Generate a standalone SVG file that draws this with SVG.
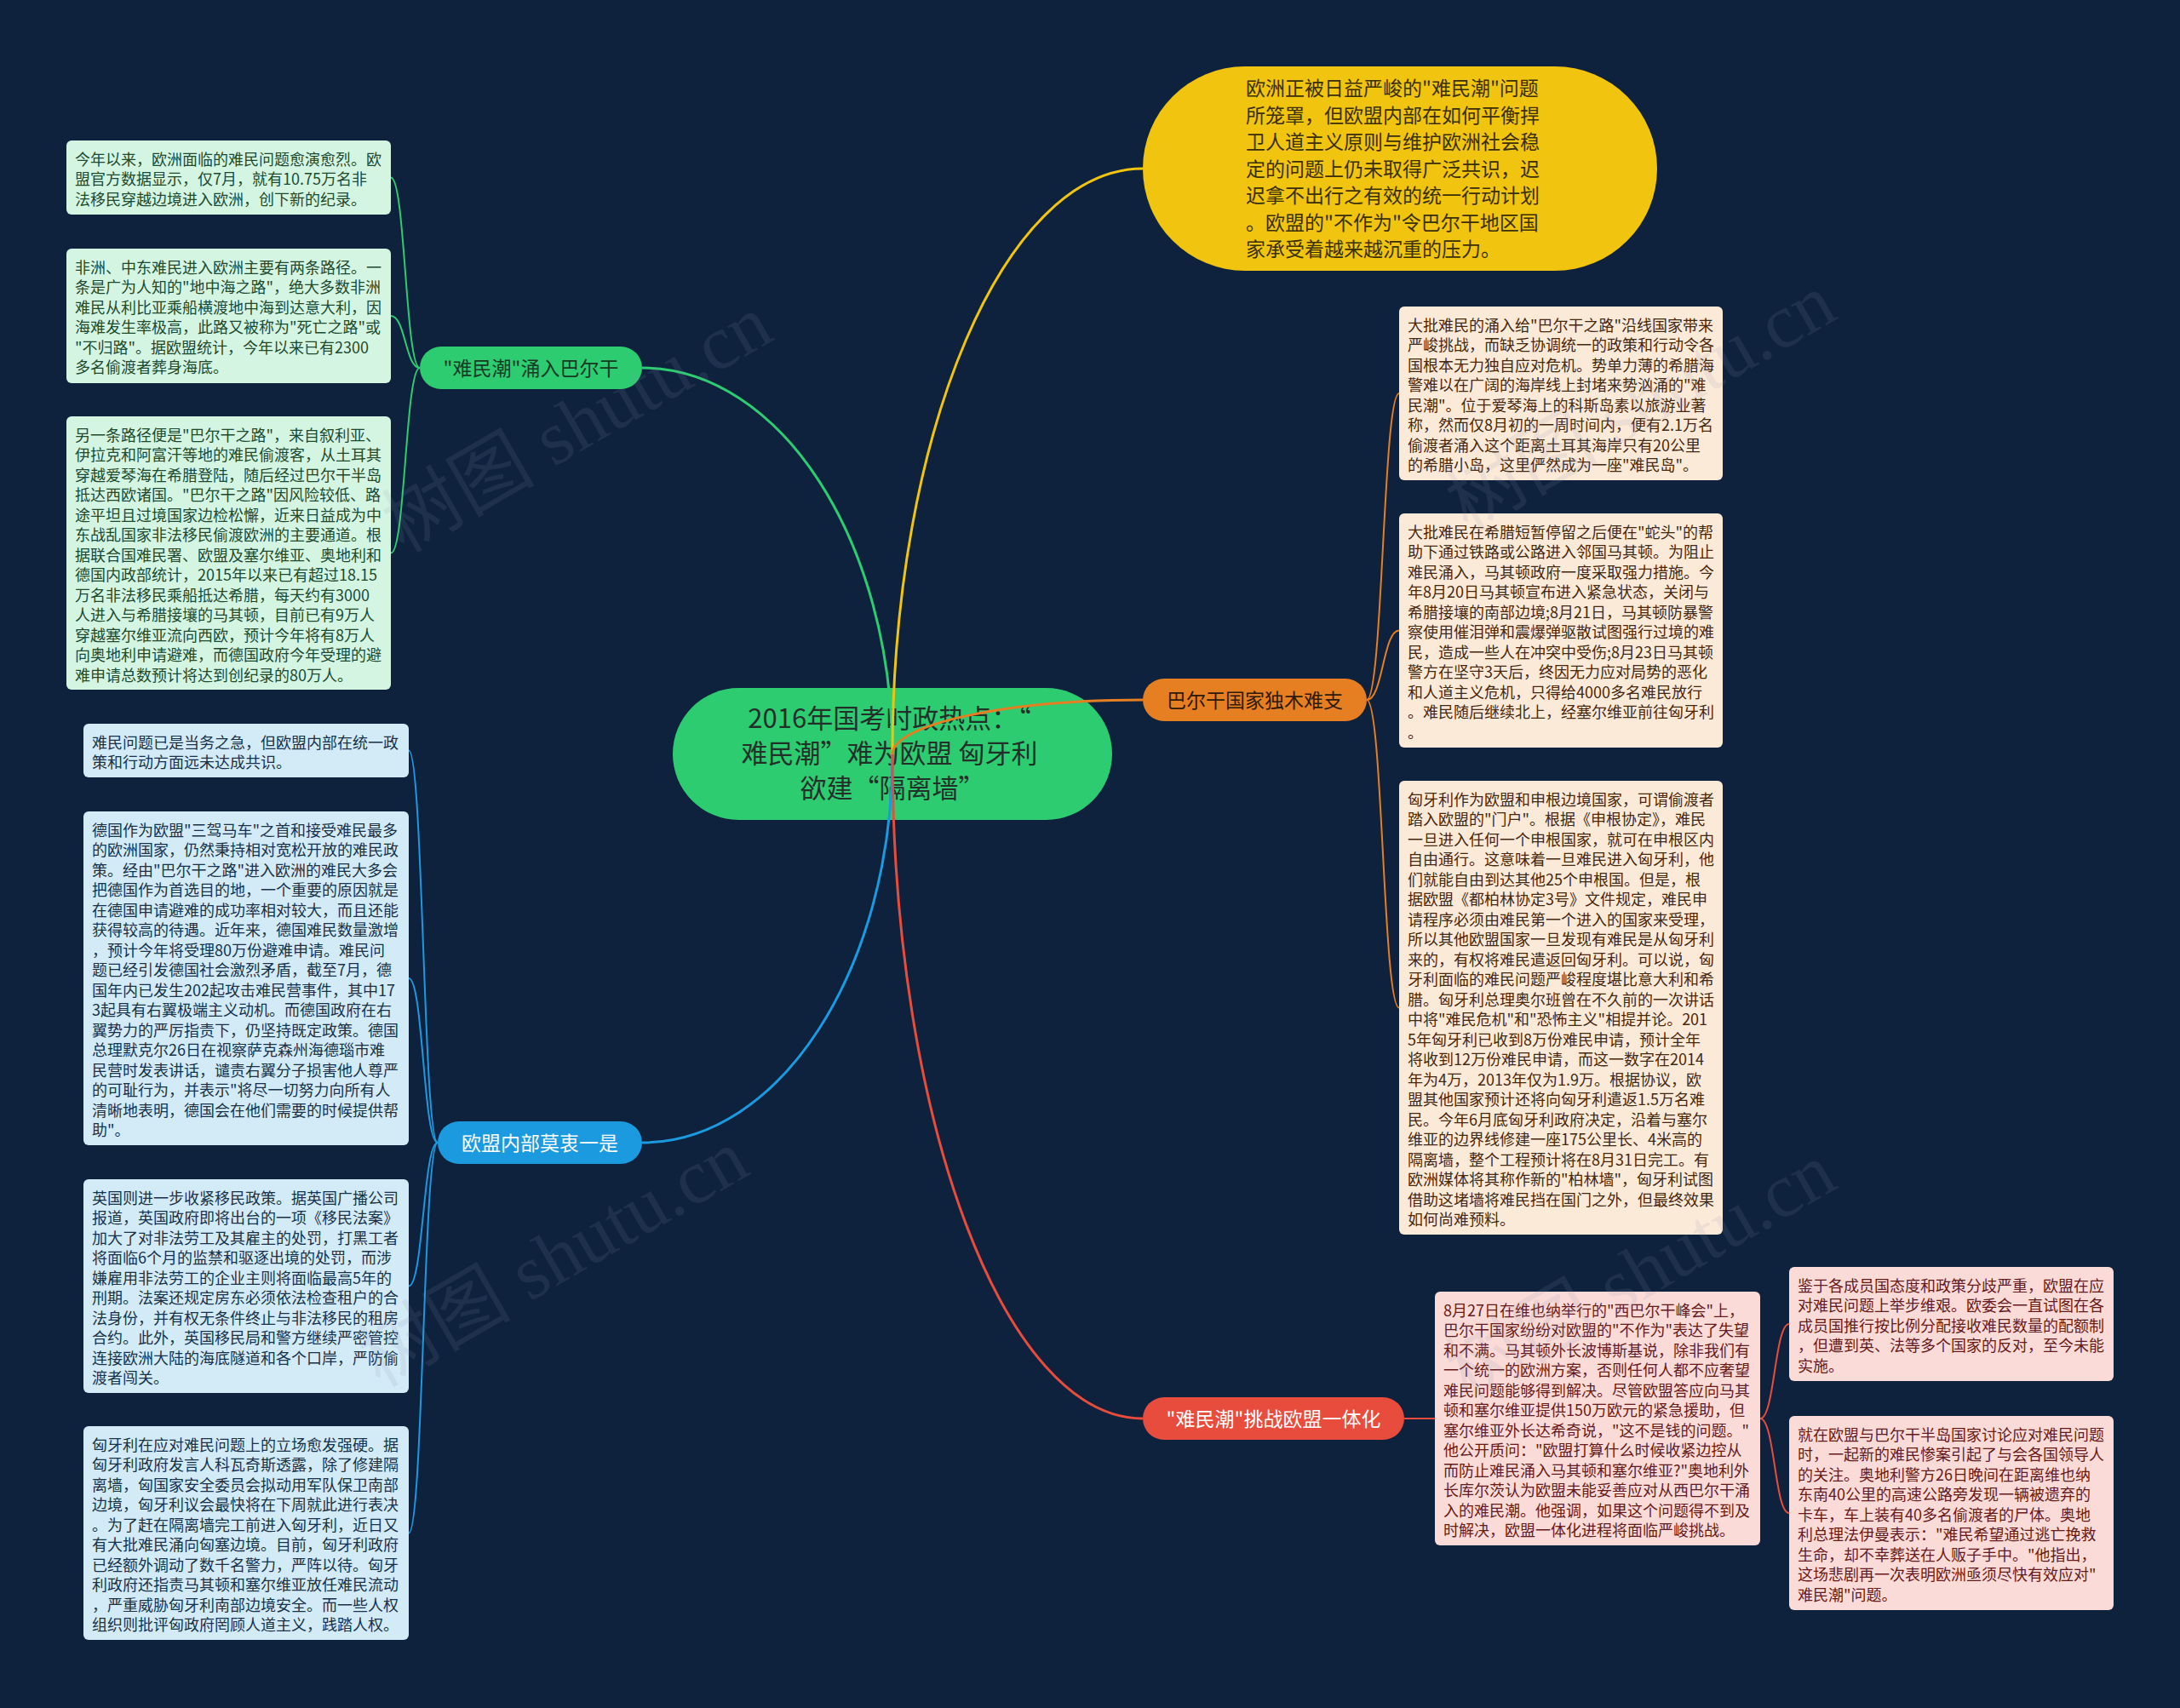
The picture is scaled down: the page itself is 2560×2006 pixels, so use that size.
<svg xmlns="http://www.w3.org/2000/svg" width="2560" height="2006" viewBox="0 0 2560 2006">
<defs>
<style>
.bg{fill:#0e223e}
.t{font-family:"Noto Sans CJK SC","Noto Sans",sans-serif;font-size:18px}
.tg{fill:#1d4a2e}
.tb{fill:#17324a}
.to{fill:#45280e}
.tr{fill:#661a1a}
.bxg{fill:#d5f5e3}
.bxb{fill:#d3eaf7}
.bxo{fill:#fcead9}
.bxr{fill:#fadbd8}
.lbl{font-family:"Noto Sans CJK SC","Noto Sans",sans-serif;font-size:23px;text-anchor:middle}
.main{fill:none;stroke-width:3}
.sub{fill:none;stroke-width:2}
.wm{font-family:"Liberation Serif","Noto Sans CJK SC",serif;font-size:90px;fill:#8a96a8;fill-opacity:0.13;text-anchor:middle}
</style>
</defs>
<rect class="bg" x="0" y="0" width="2560" height="2006"/>

<g id="center">
<rect x="790" y="808" width="516" height="155" rx="77.5" fill="#2ecc71"/>
<text font-family="'Noto Sans CJK SC',sans-serif" font-size="31" fill="#23302a" text-anchor="middle">
<tspan x="1048" y="855">2016年国考时政热点：“</tspan>
<tspan x="1048" y="896">难民潮”难为欧盟 匈牙利</tspan>
<tspan x="1048" y="937">欲建“隔离墙”</tspan>
</text>
</g>

<g id="connectors">
<path class="main" stroke="#2ecc71" d="M1048,886 C1048,635 916,432 754,432"/>
<path class="main" stroke="#f1c40f" d="M1048,886 C1048,506 1180,198 1342,198"/>
<path class="main" stroke="#e67e22" d="M1048,886 C1048,851 1180,822 1342,822"/>
<path class="main" stroke="#1b9ae0" d="M1048,886 C1048,1138 916,1342 754,1342"/>
<path class="main" stroke="#e74c3c" d="M1048,886 C1048,1317 1180,1666 1342,1666"/>
<path class="sub" stroke="#2ecc71" d="M493,432 C476,432 476,208.5 459,208.5"/>
<path class="sub" stroke="#2ecc71" d="M493,432 C476,432 476,371 459,371"/>
<path class="sub" stroke="#2ecc71" d="M493,432 C476,432 476,649.5 459,649.5"/>
<path class="sub" stroke="#1b9ae0" d="M514,1342 C497,1342 497,881.5 480,881.5"/>
<path class="sub" stroke="#1b9ae0" d="M514,1342 C497,1342 497,1149 480,1149"/>
<path class="sub" stroke="#1b9ae0" d="M514,1342 C497,1342 497,1510.5 480,1510.5"/>
<path class="sub" stroke="#1b9ae0" d="M514,1342 C497,1342 497,1800.5 480,1800.5"/>
<path class="sub" stroke="#e67e22" d="M1605,822 C1624,822 1624,462 1643,462"/>
<path class="sub" stroke="#e67e22" d="M1605,822 C1624,822 1624,740.5 1643,740.5"/>
<path class="sub" stroke="#e67e22" d="M1605,822 C1624,822 1624,1183.5 1643,1183.5"/>
<path class="sub" stroke="#e74c3c" d="M1649,1666 L1685,1666"/>
<path class="sub" stroke="#e74c3c" d="M2067,1666 C2084,1666 2084,1555 2101,1555"/>
<path class="sub" stroke="#e74c3c" d="M2067,1666 C2084,1666 2084,1777 2101,1777"/>
</g>

<g id="summary">
<rect x="1342" y="78" width="604" height="240" rx="120" fill="#f1c40f"/>
<text font-family="'Noto Sans CJK SC',sans-serif" font-size="23" fill="#3a2f05">
<tspan x="1463" y="112">欧洲正被日益严峻的"难民潮"问题</tspan>
<tspan x="1463" dy="31.5">所笼罩，但欧盟内部在如何平衡捍</tspan>
<tspan x="1463" dy="31.5">卫人道主义原则与维护欧洲社会稳</tspan>
<tspan x="1463" dy="31.5">定的问题上仍未取得广泛共识，迟</tspan>
<tspan x="1463" dy="31.5">迟拿不出行之有效的统一行动计划</tspan>
<tspan x="1463" dy="31.5">。欧盟的"不作为"令巴尔干地区国</tspan>
<tspan x="1463" dy="31.5">家承受着越来越沉重的压力。</tspan>
</text>
</g>

<g id="branch-balkan-route">
<rect x="493" y="407" width="261" height="50" rx="25" fill="#2ecc71"/>
<text class="lbl" x="623.5" y="440.5" fill="#173a24">"难民潮"涌入巴尔干</text>
</g>
<g id="g1">
<rect class="bxg" x="78" y="165" width="381" height="87" rx="6"/>
<text class="t tg"><tspan x="88" y="193.5">今年以来，欧洲面临的难民问题愈演愈烈。欧</tspan><tspan x="88" dy="23.5">盟官方数据显示，仅7月，就有10.75万名非</tspan><tspan x="88" dy="23.5">法移民穿越边境进入欧洲，创下新的纪录。</tspan></text>
</g>
<g id="g2">
<rect class="bxg" x="78" y="292" width="381" height="158" rx="6"/>
<text class="t tg"><tspan x="88" y="320.5">非洲、中东难民进入欧洲主要有两条路径。一</tspan><tspan x="88" dy="23.5">条是广为人知的"地中海之路"，绝大多数非洲</tspan><tspan x="88" dy="23.5">难民从利比亚乘船横渡地中海到达意大利，因</tspan><tspan x="88" dy="23.5">海难发生率极高，此路又被称为"死亡之路"或</tspan><tspan x="88" dy="23.5">"不归路"。据欧盟统计，今年以来已有2300</tspan><tspan x="88" dy="23.5">多名偷渡者葬身海底。</tspan></text>
</g>
<g id="g3">
<rect class="bxg" x="78" y="489" width="381" height="321" rx="6"/>
<text class="t tg"><tspan x="88" y="517.5">另一条路径便是"巴尔干之路"，来自叙利亚、</tspan><tspan x="88" dy="23.5">伊拉克和阿富汗等地的难民偷渡客，从土耳其</tspan><tspan x="88" dy="23.5">穿越爱琴海在希腊登陆，随后经过巴尔干半岛</tspan><tspan x="88" dy="23.5">抵达西欧诸国。"巴尔干之路"因风险较低、路</tspan><tspan x="88" dy="23.5">途平坦且过境国家边检松懈，近来日益成为中</tspan><tspan x="88" dy="23.5">东战乱国家非法移民偷渡欧洲的主要通道。根</tspan><tspan x="88" dy="23.5">据联合国难民署、欧盟及塞尔维亚、奥地利和</tspan><tspan x="88" dy="23.5">德国内政部统计，2015年以来已有超过18.15</tspan><tspan x="88" dy="23.5">万名非法移民乘船抵达希腊，每天约有3000</tspan><tspan x="88" dy="23.5">人进入与希腊接壤的马其顿，目前已有9万人</tspan><tspan x="88" dy="23.5">穿越塞尔维亚流向西欧，预计今年将有8万人</tspan><tspan x="88" dy="23.5">向奥地利申请避难，而德国政府今年受理的避</tspan><tspan x="88" dy="23.5">难申请总数预计将达到创纪录的80万人。</tspan></text>
</g>

<g id="branch-eu-divided">
<rect x="514" y="1317" width="240" height="50" rx="25" fill="#1b9ae0"/>
<text class="lbl" x="634" y="1350.5" fill="#ffffff">欧盟内部莫衷一是</text>
</g>
<g id="b1">
<rect class="bxb" x="98" y="850" width="382" height="63" rx="6"/>
<text class="t tb"><tspan x="108" y="878.5">难民问题已是当务之急，但欧盟内部在统一政</tspan><tspan x="108" dy="23.5">策和行动方面远未达成共识。</tspan></text>
</g>
<g id="b2">
<rect class="bxb" x="98" y="953" width="382" height="392" rx="6"/>
<text class="t tb"><tspan x="108" y="981.5">德国作为欧盟"三驾马车"之首和接受难民最多</tspan><tspan x="108" dy="23.5">的欧洲国家，仍然秉持相对宽松开放的难民政</tspan><tspan x="108" dy="23.5">策。经由"巴尔干之路"进入欧洲的难民大多会</tspan><tspan x="108" dy="23.5">把德国作为首选目的地，一个重要的原因就是</tspan><tspan x="108" dy="23.5">在德国申请避难的成功率相对较大，而且还能</tspan><tspan x="108" dy="23.5">获得较高的待遇。近年来，德国难民数量激增</tspan><tspan x="108" dy="23.5">，预计今年将受理80万份避难申请。难民问</tspan><tspan x="108" dy="23.5">题已经引发德国社会激烈矛盾，截至7月，德</tspan><tspan x="108" dy="23.5">国年内已发生202起攻击难民营事件，其中17</tspan><tspan x="108" dy="23.5">3起具有右翼极端主义动机。而德国政府在右</tspan><tspan x="108" dy="23.5">翼势力的严厉指责下，仍坚持既定政策。德国</tspan><tspan x="108" dy="23.5">总理默克尔26日在视察萨克森州海德瑙市难</tspan><tspan x="108" dy="23.5">民营时发表讲话，谴责右翼分子损害他人尊严</tspan><tspan x="108" dy="23.5">的可耻行为，并表示"将尽一切努力向所有人</tspan><tspan x="108" dy="23.5">清晰地表明，德国会在他们需要的时候提供帮</tspan><tspan x="108" dy="23.5">助"。</tspan></text>
</g>
<g id="b3">
<rect class="bxb" x="98" y="1385" width="382" height="251" rx="6"/>
<text class="t tb"><tspan x="108" y="1413.5">英国则进一步收紧移民政策。据英国广播公司</tspan><tspan x="108" dy="23.5">报道，英国政府即将出台的一项《移民法案》</tspan><tspan x="108" dy="23.5">加大了对非法劳工及其雇主的处罚，打黑工者</tspan><tspan x="108" dy="23.5">将面临6个月的监禁和驱逐出境的处罚，而涉</tspan><tspan x="108" dy="23.5">嫌雇用非法劳工的企业主则将面临最高5年的</tspan><tspan x="108" dy="23.5">刑期。法案还规定房东必须依法检查租户的合</tspan><tspan x="108" dy="23.5">法身份，并有权无条件终止与非法移民的租房</tspan><tspan x="108" dy="23.5">合约。此外，英国移民局和警方继续严密管控</tspan><tspan x="108" dy="23.5">连接欧洲大陆的海底隧道和各个口岸，严防偷</tspan><tspan x="108" dy="23.5">渡者闯关。</tspan></text>
</g>
<g id="b4">
<rect class="bxb" x="98" y="1675" width="382" height="251" rx="6"/>
<text class="t tb"><tspan x="108" y="1703.5">匈牙利在应对难民问题上的立场愈发强硬。据</tspan><tspan x="108" dy="23.5">匈牙利政府发言人科瓦奇斯透露，除了修建隔</tspan><tspan x="108" dy="23.5">离墙，匈国家安全委员会拟动用军队保卫南部</tspan><tspan x="108" dy="23.5">边境，匈牙利议会最快将在下周就此进行表决</tspan><tspan x="108" dy="23.5">。为了赶在隔离墙完工前进入匈牙利，近日又</tspan><tspan x="108" dy="23.5">有大批难民涌向匈塞边境。目前，匈牙利政府</tspan><tspan x="108" dy="23.5">已经额外调动了数千名警力，严阵以待。匈牙</tspan><tspan x="108" dy="23.5">利政府还指责马其顿和塞尔维亚放任难民流动</tspan><tspan x="108" dy="23.5">，严重威胁匈牙利南部边境安全。而一些人权</tspan><tspan x="108" dy="23.5">组织则批评匈政府罔顾人道主义，践踏人权。</tspan></text>
</g>

<g id="branch-balkan-states">
<rect x="1342" y="797" width="263" height="50" rx="25" fill="#e67e22"/>
<text class="lbl" x="1473.5" y="830.5" fill="#2e1a06">巴尔干国家独木难支</text>
</g>
<g id="o1">
<rect class="bxo" x="1643" y="360" width="380" height="204" rx="6"/>
<text class="t to"><tspan x="1653" y="388.5">大批难民的涌入给"巴尔干之路"沿线国家带来</tspan><tspan x="1653" dy="23.5">严峻挑战，而缺乏协调统一的政策和行动令各</tspan><tspan x="1653" dy="23.5">国根本无力独自应对危机。势单力薄的希腊海</tspan><tspan x="1653" dy="23.5">警难以在广阔的海岸线上封堵来势汹涌的"难</tspan><tspan x="1653" dy="23.5">民潮"。位于爱琴海上的科斯岛素以旅游业著</tspan><tspan x="1653" dy="23.5">称，然而仅8月初的一周时间内，便有2.1万名</tspan><tspan x="1653" dy="23.5">偷渡者涌入这个距离土耳其海岸只有20公里</tspan><tspan x="1653" dy="23.5">的希腊小岛，这里俨然成为一座"难民岛"。</tspan></text>
</g>
<g id="o2">
<rect class="bxo" x="1643" y="603" width="380" height="275" rx="6"/>
<text class="t to"><tspan x="1653" y="631.5">大批难民在希腊短暂停留之后便在"蛇头"的帮</tspan><tspan x="1653" dy="23.5">助下通过铁路或公路进入邻国马其顿。为阻止</tspan><tspan x="1653" dy="23.5">难民涌入，马其顿政府一度采取强力措施。今</tspan><tspan x="1653" dy="23.5">年8月20日马其顿宣布进入紧急状态，关闭与</tspan><tspan x="1653" dy="23.5">希腊接壤的南部边境;8月21日，马其顿防暴警</tspan><tspan x="1653" dy="23.5">察使用催泪弹和震爆弹驱散试图强行过境的难</tspan><tspan x="1653" dy="23.5">民，造成一些人在冲突中受伤;8月23日马其顿</tspan><tspan x="1653" dy="23.5">警方在坚守3天后，终因无力应对局势的恶化</tspan><tspan x="1653" dy="23.5">和人道主义危机，只得给4000多名难民放行</tspan><tspan x="1653" dy="23.5">。难民随后继续北上，经塞尔维亚前往匈牙利</tspan><tspan x="1653" dy="23.5">。</tspan></text>
</g>
<g id="o3">
<rect class="bxo" x="1643" y="917" width="380" height="533" rx="6"/>
<text class="t to"><tspan x="1653" y="945.5">匈牙利作为欧盟和申根边境国家，可谓偷渡者</tspan><tspan x="1653" dy="23.5">踏入欧盟的"门户"。根据《申根协定》，难民</tspan><tspan x="1653" dy="23.5">一旦进入任何一个申根国家，就可在申根区内</tspan><tspan x="1653" dy="23.5">自由通行。这意味着一旦难民进入匈牙利，他</tspan><tspan x="1653" dy="23.5">们就能自由到达其他25个申根国。但是，根</tspan><tspan x="1653" dy="23.5">据欧盟《都柏林协定3号》文件规定，难民申</tspan><tspan x="1653" dy="23.5">请程序必须由难民第一个进入的国家来受理，</tspan><tspan x="1653" dy="23.5">所以其他欧盟国家一旦发现有难民是从匈牙利</tspan><tspan x="1653" dy="23.5">来的，有权将难民遣返回匈牙利。可以说，匈</tspan><tspan x="1653" dy="23.5">牙利面临的难民问题严峻程度堪比意大利和希</tspan><tspan x="1653" dy="23.5">腊。匈牙利总理奥尔班曾在不久前的一次讲话</tspan><tspan x="1653" dy="23.5">中将"难民危机"和"恐怖主义"相提并论。201</tspan><tspan x="1653" dy="23.5">5年匈牙利已收到8万份难民申请，预计全年</tspan><tspan x="1653" dy="23.5">将收到12万份难民申请，而这一数字在2014</tspan><tspan x="1653" dy="23.5">年为4万，2013年仅为1.9万。根据协议，欧</tspan><tspan x="1653" dy="23.5">盟其他国家预计还将向匈牙利遣返1.5万名难</tspan><tspan x="1653" dy="23.5">民。今年6月底匈牙利政府决定，沿着与塞尔</tspan><tspan x="1653" dy="23.5">维亚的边界线修建一座175公里长、4米高的</tspan><tspan x="1653" dy="23.5">隔离墙，整个工程预计将在8月31日完工。有</tspan><tspan x="1653" dy="23.5">欧洲媒体将其称作新的"柏林墙"，匈牙利试图</tspan><tspan x="1653" dy="23.5">借助这堵墙将难民挡在国门之外，但最终效果</tspan><tspan x="1653" dy="23.5">如何尚难预料。</tspan></text>
</g>

<g id="branch-integration">
<rect x="1342" y="1641" width="307" height="50" rx="25" fill="#e74c3c"/>
<text class="lbl" x="1495.5" y="1674.5" fill="#ffffff">"难民潮"挑战欧盟一体化</text>
</g>
<g id="r1">
<rect class="bxr" x="1685" y="1517" width="382" height="298" rx="6"/>
<text class="t tr"><tspan x="1695" y="1545.5">8月27日在维也纳举行的"西巴尔干峰会"上，</tspan><tspan x="1695" dy="23.5">巴尔干国家纷纷对欧盟的"不作为"表达了失望</tspan><tspan x="1695" dy="23.5">和不满。马其顿外长波博斯基说，除非我们有</tspan><tspan x="1695" dy="23.5">一个统一的欧洲方案，否则任何人都不应奢望</tspan><tspan x="1695" dy="23.5">难民问题能够得到解决。尽管欧盟答应向马其</tspan><tspan x="1695" dy="23.5">顿和塞尔维亚提供150万欧元的紧急援助，但</tspan><tspan x="1695" dy="23.5">塞尔维亚外长达希奇说，"这不是钱的问题。"</tspan><tspan x="1695" dy="23.5">他公开质问："欧盟打算什么时候收紧边控从</tspan><tspan x="1695" dy="23.5">而防止难民涌入马其顿和塞尔维亚?"奥地利外</tspan><tspan x="1695" dy="23.5">长库尔茨认为欧盟未能妥善应对从西巴尔干涌</tspan><tspan x="1695" dy="23.5">入的难民潮。他强调，如果这个问题得不到及</tspan><tspan x="1695" dy="23.5">时解决，欧盟一体化进程将面临严峻挑战。</tspan></text>
</g>
<g id="r2">
<rect class="bxr" x="2101" y="1488" width="381" height="134" rx="6"/>
<text class="t tr"><tspan x="2111" y="1516.5">鉴于各成员国态度和政策分歧严重，欧盟在应</tspan><tspan x="2111" dy="23.5">对难民问题上举步维艰。欧委会一直试图在各</tspan><tspan x="2111" dy="23.5">成员国推行按比例分配接收难民数量的配额制</tspan><tspan x="2111" dy="23.5">，但遭到英、法等多个国家的反对，至今未能</tspan><tspan x="2111" dy="23.5">实施。</tspan></text>
</g>
<g id="r3">
<rect class="bxr" x="2101" y="1663" width="381" height="228" rx="6"/>
<text class="t tr"><tspan x="2111" y="1691.5">就在欧盟与巴尔干半岛国家讨论应对难民问题</tspan><tspan x="2111" dy="23.5">时，一起新的难民惨案引起了与会各国领导人</tspan><tspan x="2111" dy="23.5">的关注。奥地利警方26日晚间在距离维也纳</tspan><tspan x="2111" dy="23.5">东南40公里的高速公路旁发现一辆被遗弃的</tspan><tspan x="2111" dy="23.5">卡车，车上装有40多名偷渡者的尸体。奥地</tspan><tspan x="2111" dy="23.5">利总理法伊曼表示："难民希望通过逃亡挽救</tspan><tspan x="2111" dy="23.5">生命，却不幸葬送在人贩子手中。"他指出，</tspan><tspan x="2111" dy="23.5">这场悲剧再一次表明欧洲亟须尽快有效应对"</tspan><tspan x="2111" dy="23.5">难民潮"问题。</tspan></text>
</g>

<g id="watermarks">
<text class="wm" transform="rotate(-30 678 498)" x="678" y="528">树图 shutu.cn</text>
<text class="wm" transform="rotate(-30 1927 473)" x="1927" y="503">树图 shutu.cn</text>
<text class="wm" transform="rotate(-30 650 1478)" x="650" y="1508">树图 shutu.cn</text>
<text class="wm" transform="rotate(-30 1927 1494)" x="1927" y="1524">树图 shutu.cn</text>
</g>
</svg>
